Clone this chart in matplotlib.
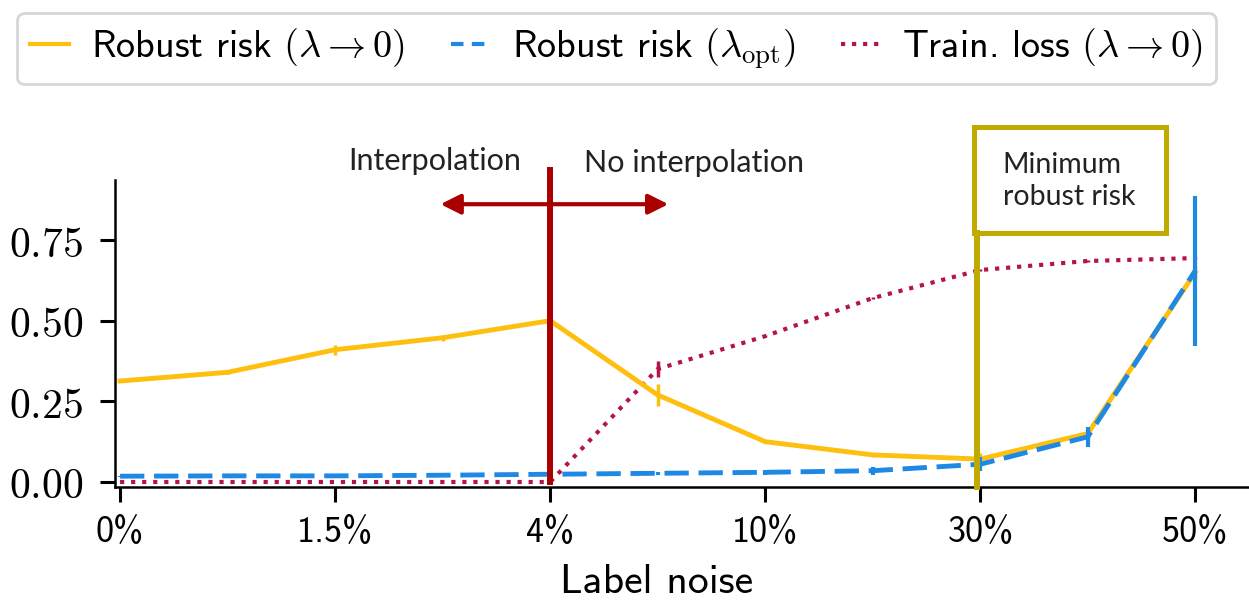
import matplotlib
matplotlib.use("Agg")
import matplotlib.pyplot as plt
from matplotlib.patches import Rectangle
from matplotlib.lines import Line2D

plt.rcParams["mathtext.fontset"] = "cm"

# data
x_idx = [0, 1, 2, 3, 4, 5, 6, 7, 8, 9, 10]
tick_pos = [0, 2, 4, 6, 8, 10]
tick_labels = ["0%", "1.5%", "4%", "10%", "30%", "50%"]

risk_zero = [0.313, 0.34, 0.41, 0.447, 0.50, 0.27, 0.125, 0.084, 0.071, 0.15, 0.65]
risk_zero_err = [0.003, 0.004, 0.015, 0.01, 0.005, 0.035, 0.005, 0.005, 0.02, 0.02, 0.02]
risk_opt = [0.018, 0.019, 0.019, 0.021, 0.024, 0.027, 0.03, 0.035, 0.055, 0.14, 0.655]
risk_opt_err = [0.002, 0.002, 0.002, 0.003, 0.003, 0.005, 0.008, 0.012, 0.022, 0.03, 0.232]
train_loss = [0.0, 0.0, 0.0, 0.0, 0.0, 0.35, 0.452, 0.57, 0.657, 0.685, 0.694]
train_loss_err = [0, 0, 0, 0, 0, 0.025, 0.004, 0.004, 0.004, 0.004, 0.004]

series_labels = [r"Robust risk $(\lambda \rightarrow 0)$",
                 r"Robust risk $(\lambda_{\mathrm{opt}})$",
                 r"Train. loss $(\lambda \rightarrow 0)$"]

YELLOW = "#ffbf0f"
BLUE = "#1e88e5"
CRIMSON = "#b5134b"
DARKRED = "#aa0000"
OLIVE = "#bfaa00"
SANS = ["cmss10", "DejaVu Sans"]
NOTE = ["Lato", "DejaVu Sans"]
DASH = (0, (5, 2))

fig = plt.figure(figsize=(12.49, 6.0), dpi=100)
ax = fig.add_axes([115 / 1249, 113 / 600, 1134 / 1249, 307 / 600])

ax.errorbar(x_idx, risk_zero, yerr=risk_zero_err, color=YELLOW, lw=3.5, elinewidth=2.5,
            capsize=0, zorder=3)
ax.errorbar(x_idx, risk_opt, yerr=risk_opt_err, color=BLUE, lw=3.5, elinewidth=3,
            capsize=0, ls=DASH, zorder=4)
ax.errorbar(x_idx, train_loss, yerr=train_loss_err, color=CRIMSON, lw=3, elinewidth=2.5,
            capsize=0, ls=":", zorder=2)

ax.set_xlim(-0.047, 10.5)
ax.set_ylim(-0.0155, 0.936)
ax.set_xticks(tick_pos)
ax.set_xticklabels(tick_labels, family=SANS, fontsize=26)
ax.set_yticks([0, 0.25, 0.5, 0.75])
ax.set_yticklabels([r"$0.00$", r"$0.25$", r"$0.50$", r"$0.75$"], fontsize=30)
ax.tick_params(axis="both", direction="out", length=11, width=2.2, color="black")
ax.tick_params(axis="x", pad=10)
ax.tick_params(axis="y", pad=12)
for s in ["top", "right"]:
    ax.spines[s].set_visible(False)
for s in ["left", "bottom"]:
    ax.spines[s].set_linewidth(1.8)

ax.set_xlabel("Label noise", family=SANS, fontsize=30)
ax.xaxis.set_label_coords((657 - 115) / 1134, -0.25)

# interpolation threshold
ax.plot([4, 4], [0, 0.967], color=DARKRED, lw=4.3, clip_on=False, zorder=5)
ax.annotate("", xy=(2.98, 0.861), xytext=(5.1, 0.861), annotation_clip=False,
            arrowprops=dict(arrowstyle="<|-|>", color=DARKRED, lw=3, mutation_scale=30,
                            shrinkA=0, shrinkB=0))
ax.text(2.93, 0.994, "Interpolation", family=NOTE, fontsize=22, color="#222222",
        ha="center", va="center", clip_on=False)
ax.text(5.34, 0.99, "No interpolation", family=NOTE, fontsize=22, color="#222222",
        ha="center", va="center", clip_on=False)

# minimum robust risk box
ax.plot([7.97, 7.97], [-0.0155, 0.772], color=OLIVE, lw=4.3, clip_on=False, zorder=5)
ax.add_patch(Rectangle((7.94, 0.772), 1.79, 0.328, fill=False, edgecolor=OLIVE,
                       lw=3.6, clip_on=False, zorder=5))
ax.text(8.21, 0.933, "Minimum\nrobust risk", family=NOTE, fontsize=20.5, color="#222222",
        ha="left", va="center", linespacing=1.3, clip_on=False)

handles = [Line2D([], [], color=YELLOW, lw=3),
           Line2D([], [], color=BLUE, lw=3, ls=(0, (3, 2))),
           Line2D([], [], color=CRIMSON, lw=3, ls=":")]
leg = fig.legend(handles, series_labels, loc="upper left", bbox_to_anchor=(17 / 1249, 1 - 13 / 600),
                 ncol=3, prop={"family": SANS, "size": 27.5}, handlelength=1.0,
                 handletextpad=0.6, columnspacing=1.2, borderaxespad=0, borderpad=0.35,
                 frameon=True, fancybox=True, edgecolor="#cccccc", shadow=False)
leg.get_frame().set_linewidth(2)

fig.savefig("out.png", dpi=100)
